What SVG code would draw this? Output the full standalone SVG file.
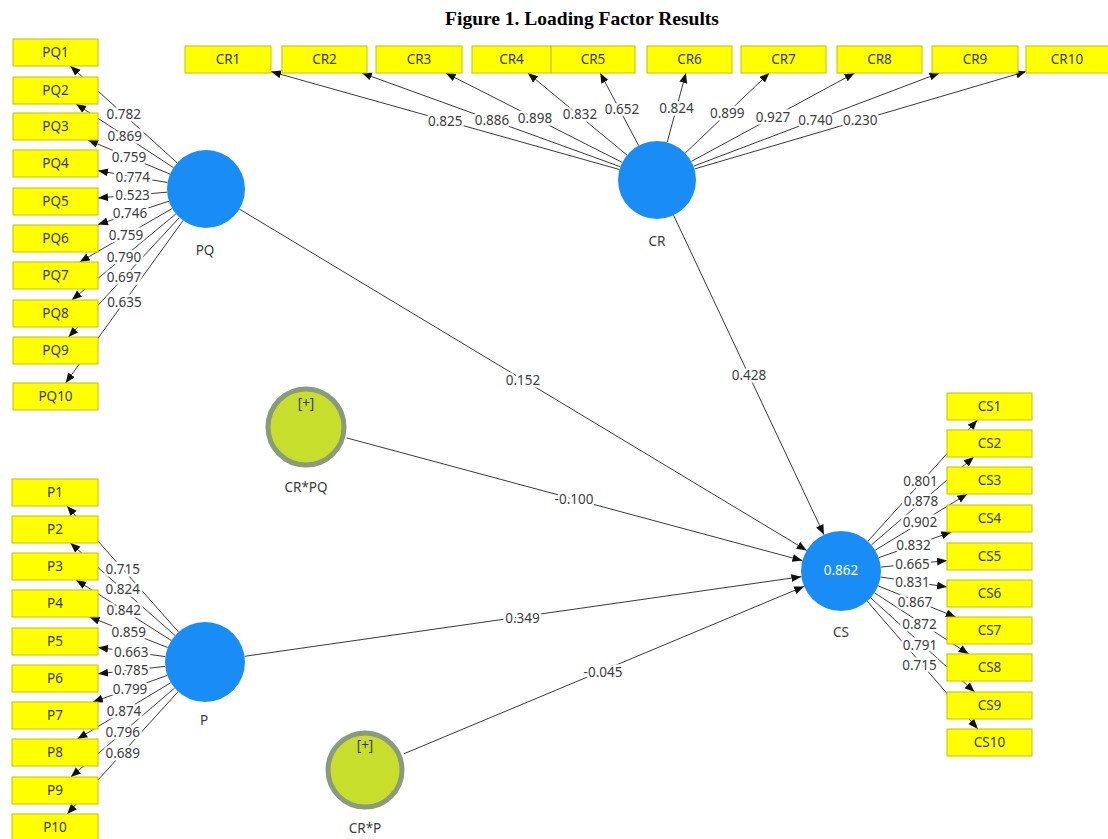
<svg xmlns="http://www.w3.org/2000/svg" width="1108" height="839" viewBox="0 0 1108 839">
<defs>
<marker id="ah" markerUnits="userSpaceOnUse" markerWidth="11" markerHeight="9" refX="10" refY="4" orient="auto"><path d="M0,0 L10,4 L0,8 z" fill="#111"/></marker>
<style>
.c line{stroke:#3a3a3a;stroke-width:1;marker-end:url(#ah)}
.lb{font-family:"Noto Sans","Open Sans",sans-serif;font-size:13.5px;fill:#3c3c3c;text-anchor:middle;paint-order:stroke;stroke:#fff;stroke-width:5px;stroke-linejoin:round}
.bx rect{fill:#ffff00;stroke:#c2c200;stroke-width:1}
.bt{font-family:"Noto Sans","Open Sans",sans-serif;font-size:13.5px;fill:#3a3a3a;text-anchor:middle}
.lv{fill:#1a8cf5}
.mo{fill:#c8de2c;stroke:#8c9a7c;stroke-width:5}
.nm{font-family:"Noto Sans","Open Sans",sans-serif;font-size:13.5px;fill:#3a3a3a;text-anchor:middle}
</style>
</defs>
<rect width="1108" height="839" fill="#fff"/>
<text x="582" y="25" font-family="Liberation Serif,serif" font-weight="bold" font-size="19.5" fill="#000" text-anchor="middle">Figure 1. Loading Factor Results</text>
<g id="connectors" class="c">
<line x1="177.1" y1="162.8" x2="70.4" y2="66"/>
<line x1="173.4" y1="167.6" x2="76.1" y2="104"/>
<line x1="170" y1="174.1" x2="88" y2="140"/>
<line x1="167.5" y1="182.5" x2="98" y2="170.7"/>
<line x1="167.1" y1="192.2" x2="98" y2="198"/>
<line x1="168.9" y1="201.2" x2="98" y2="224.5"/>
<line x1="172.2" y1="208.5" x2="79.7" y2="262"/>
<line x1="175.9" y1="213.9" x2="71.8" y2="300"/>
<line x1="179.4" y1="217.6" x2="68.5" y2="337"/>
<line x1="183.1" y1="220.6" x2="65.6" y2="383"/>
<line x1="619.4" y1="169.5" x2="271" y2="71.6"/>
<line x1="620.3" y1="166.7" x2="361.8" y2="73"/>
<line x1="622.2" y1="162.4" x2="445.7" y2="73"/>
<line x1="627" y1="155.1" x2="527.8" y2="73"/>
<line x1="638.7" y1="145.6" x2="600.2" y2="73"/>
<line x1="667.2" y1="142.3" x2="685.9" y2="73"/>
<line x1="685.2" y1="153.1" x2="769.3" y2="73"/>
<line x1="691.3" y1="161.4" x2="854.6" y2="73"/>
<line x1="693.5" y1="166.2" x2="939.4" y2="73"/>
<line x1="694.4" y1="169" x2="1026" y2="71.5"/>
<line x1="867.8" y1="541.3" x2="977.3" y2="420"/>
<line x1="871.4" y1="544.9" x2="973.8" y2="457"/>
<line x1="875.2" y1="550.2" x2="967.3" y2="494"/>
<line x1="878.7" y1="557.7" x2="951.3" y2="532"/>
<line x1="880.8" y1="567.1" x2="947" y2="560.6"/>
<line x1="880.6" y1="577" x2="947" y2="587"/>
<line x1="878.1" y1="585.9" x2="955.8" y2="617"/>
<line x1="874.5" y1="592.8" x2="968.7" y2="654"/>
<line x1="870.6" y1="597.8" x2="974.6" y2="692"/>
<line x1="867.2" y1="601.2" x2="977.8" y2="729"/>
<line x1="178.5" y1="632" x2="67" y2="506"/>
<line x1="175" y1="635.5" x2="70.3" y2="543"/>
<line x1="171.3" y1="640.5" x2="76.2" y2="580"/>
<line x1="167.7" y1="647.5" x2="89.6" y2="617"/>
<line x1="165.4" y1="656.6" x2="98" y2="647.4"/>
<line x1="165.2" y1="666.4" x2="98" y2="673.8"/>
<line x1="167.3" y1="675.4" x2="92.9" y2="702"/>
<line x1="170.8" y1="682.7" x2="77.4" y2="739"/>
<line x1="174.6" y1="688" x2="70.8" y2="777"/>
<line x1="178.1" y1="691.6" x2="67.2" y2="814"/>
<line x1="239.4" y1="209.1" x2="806.7" y2="550.4"/>
<line x1="673.6" y1="215.3" x2="824" y2="534.8"/>
<line x1="346.6" y1="437.9" x2="802.4" y2="560.6"/>
<line x1="244.6" y1="656.3" x2="801.4" y2="576.7"/>
<line x1="403.8" y1="753.8" x2="804.1" y2="586.4"/>
<g>
<text class="lb" x="123.8" y="119">0.782</text>
<text class="lb" x="124.8" y="140.5">0.869</text>
<text class="lb" x="129" y="161.5">0.759</text>
<text class="lb" x="132.8" y="181.5">0.774</text>
<text class="lb" x="132.6" y="200">0.523</text>
<text class="lb" x="130" y="217.5">0.746</text>
<text class="lb" x="126" y="240">0.759</text>
<text class="lb" x="123.9" y="261.5">0.790</text>
<text class="lb" x="124" y="282">0.697</text>
<text class="lb" x="124.4" y="306.5">0.635</text>
<text class="lb" x="445.2" y="125.5">0.825</text>
<text class="lb" x="492" y="125">0.886</text>
<text class="lb" x="535" y="122.5">0.898</text>
<text class="lb" x="580" y="119">0.832</text>
<text class="lb" x="622" y="114">0.652</text>
<text class="lb" x="676.5" y="112.5">0.824</text>
<text class="lb" x="727.3" y="118">0.899</text>
<text class="lb" x="773" y="122">0.927</text>
<text class="lb" x="815.5" y="124.5">0.740</text>
<text class="lb" x="860.2" y="125">0.230</text>
<text class="lb" x="920.5" y="485.5">0.801</text>
<text class="lb" x="921" y="506">0.878</text>
<text class="lb" x="920" y="527">0.902</text>
<text class="lb" x="913.5" y="550">0.832</text>
<text class="lb" x="912.5" y="569">0.665</text>
<text class="lb" x="912.5" y="587">0.831</text>
<text class="lb" x="915" y="606.5">0.867</text>
<text class="lb" x="919.5" y="628.5">0.872</text>
<text class="lb" x="920" y="650">0.791</text>
<text class="lb" x="919.5" y="670">0.715</text>
<text class="lb" x="122.8" y="574">0.715</text>
<text class="lb" x="122.7" y="594">0.824</text>
<text class="lb" x="123.8" y="615">0.842</text>
<text class="lb" x="128.7" y="637">0.859</text>
<text class="lb" x="131.2" y="657">0.663</text>
<text class="lb" x="131.2" y="675">0.785</text>
<text class="lb" x="130.1" y="693.5">0.799</text>
<text class="lb" x="124.1" y="715.5">0.874</text>
<text class="lb" x="122.7" y="737">0.796</text>
<text class="lb" x="122.7" y="757.5">0.689</text>
<text class="lb" x="523" y="385">0.152</text>
<text class="lb" x="749" y="380">0.428</text>
<text class="lb" x="574" y="504">-0.100</text>
<text class="lb" x="522.5" y="622.5">0.349</text>
<text class="lb" x="603" y="676.5">-0.045</text>
</g>
</g>
<g id="PQ1" class="bx"><rect x="13" y="39" width="85" height="27"/><text class="bt" x="55.5" y="57">PQ1</text></g>
<g id="PQ2" class="bx"><rect x="13" y="77" width="85" height="27"/><text class="bt" x="55.5" y="95">PQ2</text></g>
<g id="PQ3" class="bx"><rect x="13" y="113" width="85" height="27"/><text class="bt" x="55.5" y="131">PQ3</text></g>
<g id="PQ4" class="bx"><rect x="13" y="150" width="85" height="27"/><text class="bt" x="55.5" y="168">PQ4</text></g>
<g id="PQ5" class="bx"><rect x="13" y="188" width="85" height="27"/><text class="bt" x="55.5" y="206">PQ5</text></g>
<g id="PQ6" class="bx"><rect x="13" y="225" width="85" height="27"/><text class="bt" x="55.5" y="243">PQ6</text></g>
<g id="PQ7" class="bx"><rect x="13" y="262" width="85" height="27"/><text class="bt" x="55.5" y="280">PQ7</text></g>
<g id="PQ8" class="bx"><rect x="13" y="300" width="85" height="27"/><text class="bt" x="55.5" y="318">PQ8</text></g>
<g id="PQ9" class="bx"><rect x="13" y="337" width="85" height="27"/><text class="bt" x="55.5" y="355">PQ9</text></g>
<g id="PQ10" class="bx"><rect x="13" y="383" width="85" height="27"/><text class="bt" x="55.5" y="401">PQ10</text></g>
<g id="CR1" class="bx"><rect x="185" y="46" width="86" height="27"/><text class="bt" x="228" y="64">CR1</text></g>
<g id="CR2" class="bx"><rect x="282" y="46" width="85" height="27"/><text class="bt" x="324.5" y="64">CR2</text></g>
<g id="CR3" class="bx"><rect x="376" y="46" width="86" height="27"/><text class="bt" x="419" y="64">CR3</text></g>
<g id="CR4" class="bx"><rect x="472" y="46" width="79" height="27"/><text class="bt" x="511.5" y="64">CR4</text></g>
<g id="CR5" class="bx"><rect x="551" y="46" width="84" height="27"/><text class="bt" x="593" y="64">CR5</text></g>
<g id="CR6" class="bx"><rect x="647" y="46" width="85" height="27"/><text class="bt" x="689.5" y="64">CR6</text></g>
<g id="CR7" class="bx"><rect x="741" y="46" width="85" height="27"/><text class="bt" x="783.5" y="64">CR7</text></g>
<g id="CR8" class="bx"><rect x="837" y="46" width="85" height="27"/><text class="bt" x="879.5" y="64">CR8</text></g>
<g id="CR9" class="bx"><rect x="932" y="46" width="86" height="27"/><text class="bt" x="975" y="64">CR9</text></g>
<g id="CR10" class="bx"><rect x="1026" y="46" width="84" height="27"/><text class="bt" x="1067" y="64">CR10</text></g>
<g id="CS1" class="bx"><rect x="947" y="393" width="85" height="27"/><text class="bt" x="989.5" y="411">CS1</text></g>
<g id="CS2" class="bx"><rect x="947" y="430" width="85" height="27"/><text class="bt" x="989.5" y="448">CS2</text></g>
<g id="CS3" class="bx"><rect x="947" y="467" width="85" height="27"/><text class="bt" x="989.5" y="485">CS3</text></g>
<g id="CS4" class="bx"><rect x="947" y="505" width="85" height="27"/><text class="bt" x="989.5" y="523">CS4</text></g>
<g id="CS5" class="bx"><rect x="947" y="543" width="85" height="27"/><text class="bt" x="989.5" y="561">CS5</text></g>
<g id="CS6" class="bx"><rect x="947" y="580" width="85" height="27"/><text class="bt" x="989.5" y="598">CS6</text></g>
<g id="CS7" class="bx"><rect x="947" y="617" width="85" height="27"/><text class="bt" x="989.5" y="635">CS7</text></g>
<g id="CS8" class="bx"><rect x="947" y="654" width="85" height="27"/><text class="bt" x="989.5" y="672">CS8</text></g>
<g id="CS9" class="bx"><rect x="947" y="692" width="85" height="27"/><text class="bt" x="989.5" y="710">CS9</text></g>
<g id="CS10" class="bx"><rect x="947" y="729" width="85" height="27"/><text class="bt" x="989.5" y="747">CS10</text></g>
<g id="P1" class="bx"><rect x="12" y="479" width="86" height="27"/><text class="bt" x="55" y="497">P1</text></g>
<g id="P2" class="bx"><rect x="12" y="516" width="86" height="27"/><text class="bt" x="55" y="534">P2</text></g>
<g id="P3" class="bx"><rect x="12" y="553" width="86" height="27"/><text class="bt" x="55" y="571">P3</text></g>
<g id="P4" class="bx"><rect x="12" y="590" width="86" height="27"/><text class="bt" x="55" y="608">P4</text></g>
<g id="P5" class="bx"><rect x="12" y="628" width="86" height="27"/><text class="bt" x="55" y="646">P5</text></g>
<g id="P6" class="bx"><rect x="12" y="665" width="86" height="27"/><text class="bt" x="55" y="683">P6</text></g>
<g id="P7" class="bx"><rect x="12" y="702" width="86" height="27"/><text class="bt" x="55" y="720">P7</text></g>
<g id="P8" class="bx"><rect x="12" y="739" width="86" height="27"/><text class="bt" x="55" y="757">P8</text></g>
<g id="P9" class="bx"><rect x="12" y="777" width="86" height="27"/><text class="bt" x="55" y="795">P9</text></g>
<g id="P10" class="bx"><rect x="12" y="814" width="86" height="27"/><text class="bt" x="55" y="832">P10</text></g>
<g id="PQ"><circle class="lv" cx="206" cy="189" r="39"/><text class="nm" x="205" y="255">PQ</text></g>
<g id="CR"><circle class="lv" cx="657" cy="180" r="39"/><text class="nm" x="657" y="246">CR</text></g>
<g id="CS"><circle class="lv" cx="841" cy="571" r="40"/><text class="nm" x="841" y="575" style="fill:#fff">0.862</text><text class="nm" x="841" y="637">CS</text></g>
<g id="P"><circle class="lv" cx="205" cy="662" r="40"/><text class="nm" x="204" y="725">P</text></g>
<g id="CRxPQ"><circle class="mo" cx="306" cy="427" r="38"/><text class="nm" x="306" y="408" font-size="11">[+]</text><text class="nm" x="306" y="492">CR*PQ</text></g>
<g id="CRxP"><circle class="mo" cx="365" cy="770" r="37"/><text class="nm" x="365" y="750" font-size="11">[+]</text><text class="nm" x="365" y="833">CR*P</text></g>
</svg>
